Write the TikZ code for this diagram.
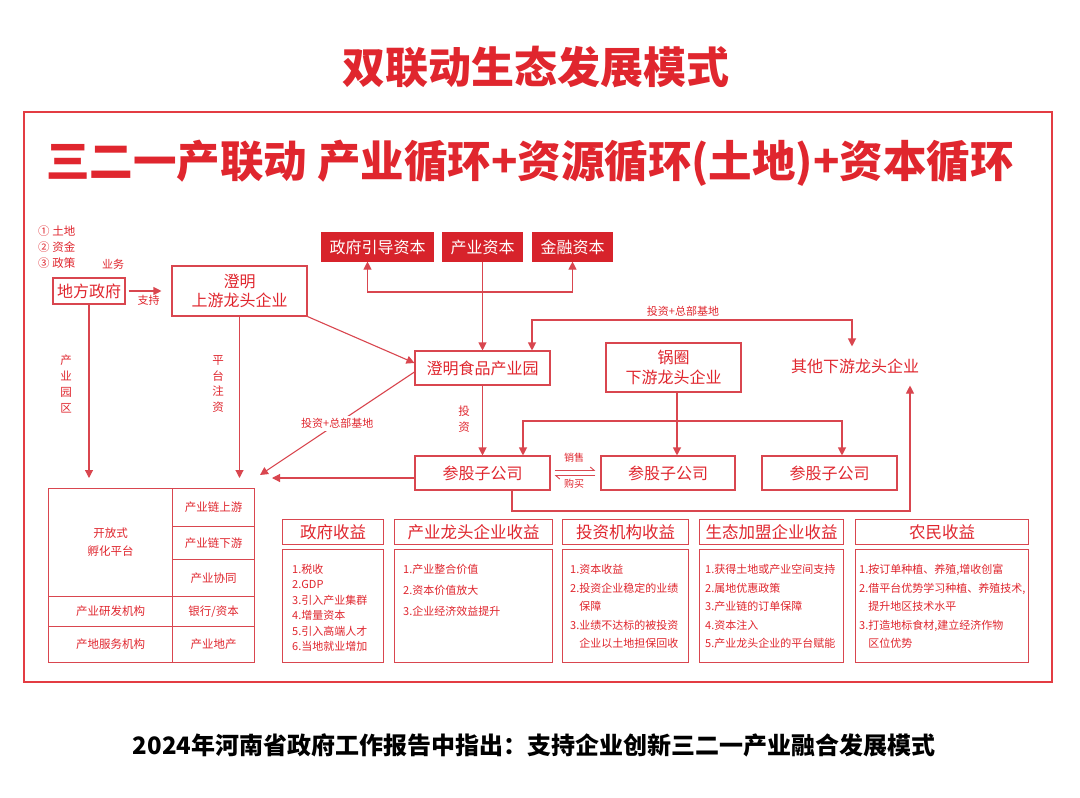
\documentclass[tikz,border=0pt]{standalone}
\usepackage{fontspec}
\usepackage{xcolor}
\usepackage{tikz}
\usetikzlibrary{calc,arrows.meta}
\newfontfamily\cjk{Noto Sans CJK SC}
\definecolor{hred}{HTML}{E0262E}
\definecolor{lred}{HTML}{D9464F}
\definecolor{fred}{HTML}{D7232B}
\tikzset{
  box/.style={draw=lred, line width=1.1pt, text=hred, inner sep=0pt, align=center, font=\cjk\fontsize{16}{19.5}\selectfont},
  capbox/.style={box, fill=fred, draw=fred, text=white},
  cell/.style={draw=lred, line width=1.1pt, text=hred, inner sep=0pt, align=center, anchor=north west, font=\cjk\fontsize{11.5}{18}\selectfont},
  lab/.style={text=hred, inner sep=1pt, font=\cjk\fontsize{11}{13}\selectfont},
  vlab/.style={text=hred, inner sep=0pt, align=center, font=\cjk\fontsize{11.5}{15.8}\selectfont},
  arr/.style={draw=lred, line width=1.1pt, -{Triangle[length=8pt,width=8pt]}},
  biarr/.style={draw=lred, line width=1.1pt, {Triangle[length=8pt,width=8pt]}-{Triangle[length=8pt,width=8pt]}},
  harp/.style={draw=lred, line width=0.9pt, -{Straight Barb[left,length=4pt,width=7pt]}},
  body/.style={text=hred, inner sep=0pt, anchor=north west, align=left, font=\cjk\fontsize{11}{18.6}\selectfont},
}

\begin{document}
\begin{tikzpicture}[x=1pt,y=1pt]
  \useasboundingbox (0,0) rectangle (1080,-798);
  \fill[white] (0,0) rectangle (1080,-798);

  % titles and frame
  \node[text=hred, font=\cjk\bfseries\fontsize{43}{47}\selectfont] (title) at (536,-67) {双联动生态发展模式};
  \draw[draw=hred!90, line width=2pt] (24,-112) rectangle (1052,-682);
  \node[text=hred, font=\cjk\bfseries\fontsize{43.5}{48}\selectfont] (subtitle) at (530,-163) {三二一产联动 产业循环+资源循环(土地)+资本循环};
  \node[text=black, font=\cjk\bfseries\fontsize{24}{28}\selectfont] (footer) at (534,-745) {2024年河南省政府工作报告中指出：支持企业创新三二一产业融合发展模式};

  % left part
  \node[lab, anchor=west, font=\cjk\fontsize{11.5}{13}\selectfont] (res1) at (37,-231) {① 土地};
  \node[lab, anchor=west, font=\cjk\fontsize{11.5}{13}\selectfont] (res2) at (37,-247) {② 资金};
  \node[lab, anchor=west, font=\cjk\fontsize{11.5}{13}\selectfont] (res3) at (37,-263) {③ 政策};
  \node[lab] (biz) at (113,-264) {业务};
  \node[box, minimum width=72pt, minimum height=26pt] (gov) at (89,-291) {地方政府};
  \node[box, minimum width=135pt, minimum height=50pt] (upstr) at (239.5,-291) {澄明\\上游龙头企业};

  % capital
  \node[capbox, minimum width=111pt, minimum height=28pt] (capA) at (377.5,-247) {政府引导资本};
  \node[capbox, minimum width=79pt, minimum height=28pt] (capB) at (482.5,-247) {产业资本};
  \node[capbox, minimum width=79pt, minimum height=28pt] (capC) at (572.5,-247) {金融资本};

  % middle
  \node[box, minimum width=135pt, minimum height=34pt] (park) at (482.5,-368) {澄明食品产业园};
  \node[box, minimum width=135pt, minimum height=49pt] (guoq) at (673.5,-367.5) {锅圈\\下游龙头企业};
  \node[box, draw=none, minimum width=135pt, minimum height=38pt] (other) at (855,-366) {其他下游龙头企业};
  \node[box, minimum width=135pt, minimum height=34pt] (sub1) at (482.5,-473) {参股子公司};
  \node[box, minimum width=134pt, minimum height=34pt] (sub2) at (668,-473) {参股子公司};
  \node[box, minimum width=135pt, minimum height=34pt] (sub3) at (829.5,-473) {参股子公司};

  \coordinate (inA) at (89,-478);
  \coordinate (inB) at (239.5,-478);
  \coordinate (inC) at (260,-475);
  \coordinate (inD) at (272,-478);
  \coordinate (jct) at (482.5,-292);
  \coordinate (topL) at (532,-320);
  \coordinate (topR) at (852,-320);
  \coordinate (brL) at (523,-421);
  \coordinate (brR) at (842,-421);
  \coordinate (rtR) at (910,-511);

  % connectors
  \draw[arr, shorten <=3pt, shorten >=10pt] (gov.east) -- (gov.east -| upstr.west)
    node[lab, midway, below=3pt] {支持};
  \draw[arr] (gov) -- (inA);
  \node[vlab] (lbA) at (66,-384) {产\\业\\园\\区};
  \draw[arr] (upstr) -- (inB);
  \node[vlab] (lbB) at (218,-384) {平\\台\\注\\资};
  \draw[arr] (upstr.south east) -- ([yshift=5pt]park.west);
  \draw[arr] ([yshift=-4pt]park.west) -- (inC)
    node[lab, midway, fill=white, inner sep=2pt] {投资+总部基地};
  \draw[arr] ([yshift=-5pt]sub1.west) -- (inD);

  \draw[arr] (capB) -- (park);
  \draw[arr] (jct) -| ([xshift=-10pt]capA.south);
  \draw[arr] (jct) -| (capC.south);

  \draw[biarr] (park.north -| topL) |- (topR) -- (other.north -| topR);
  \node[lab] (lbTop) at (683,-311) {投资+总部基地};

  \draw[arr] (park) -- (sub1);
  \node[vlab] (lbC) at (464,-419) {投\\资};

  \draw[arr] ([xshift=3.5pt]guoq.south) -- ([xshift=3.5pt]guoq.south |- sub2.north);
  \draw[biarr] (sub1.north -| brL) |- (brR) -- (sub3.north -| brR);

  \draw[harp] ([xshift=4pt,yshift=2.5pt]sub1.east) -- ([xshift=-5pt,yshift=2.5pt]sub2.west);
  \draw[harp] ([xshift=-5pt,yshift=-2.5pt]sub2.west) -- ([xshift=4pt,yshift=-2.5pt]sub1.east);
  \node[lab, font=\cjk\fontsize{10}{12}\selectfont] (sell) at (574,-458) {销售};
  \node[lab, font=\cjk\fontsize{10}{12}\selectfont] (buy) at (574,-484) {购买};

  \draw[arr] ([xshift=29.5pt]sub1.south) |- (rtR) -- (rtR |- other.south);

  % platform table
  \node[cell, minimum width=124pt, minimum height=108pt] (incub) at (48,-488) {开放式\\孵化平台};
  \node[cell, minimum width=124pt, minimum height=30pt] (rnd) at (48,-596) {产业研发机构};
  \node[cell, minimum width=124pt, minimum height=36pt] (svc) at (48,-626) {产地服务机构};
  \node[cell, minimum width=82pt, minimum height=38pt] (chainU) at (172,-488) {产业链上游};
  \node[cell, minimum width=82pt, minimum height=33pt] (chainD) at (172,-526) {产业链下游};
  \node[cell, minimum width=82pt, minimum height=37pt] (coop) at (172,-559) {产业协同};
  \node[cell, minimum width=82pt, minimum height=30pt] (bank) at (172,-596) {银行/资本};
  \node[cell, minimum width=82pt, minimum height=36pt] (estate) at (172,-626) {产业地产};

  % revenue columns
  \foreach \x/\w/\n/\t in {282/101/gov/政府收益, 394/158/lead/产业龙头企业收益, 562/126/inv/投资机构收益, 699/144/eco/生态加盟企业收益, 855/173/farm/农民收益}{
    \node[cell, font=\cjk\fontsize{16.5}{19}\selectfont, minimum width=\w pt, minimum height=25pt] (h\n) at (\x,-519) {\t};
    \node[cell, minimum width=\w pt, minimum height=113pt] (b\n) at (\x,-549) {};
  }
  \node[body, font=\cjk\fontsize{11}{15.4}\selectfont] (tgov) at (292,-564) {1.税收\\2.GDP\\3.引入产业集群\\4.增量资本\\5.引入高端人才\\6.当地就业增加};
  \node[body, font=\cjk\fontsize{11}{21}\selectfont] (tlead) at (403,-564) {1.产业整合价值\\2.资本价值放大\\3.企业经济效益提升};
  \node[body] (tinv) at (570,-564) {1.资本收益\\2.投资企业稳定的业绩\\\phantom{2.}保障\\3.业绩不达标的被投资\\\phantom{3.}企业以土地担保回收};
  \node[body] (teco) at (705,-564) {1.获得土地或产业空间支持\\2.属地优惠政策\\3.产业链的订单保障\\4.资本注入\\5.产业龙头企业的平台赋能};
  \node[body] (tfarm) at (859,-564) {1.按订单种植、养殖,增收创富\\2.借平台优势学习种植、养殖技术,\\\phantom{2.}提升地区技术水平\\3.打造地标食材,建立经济作物\\\phantom{3.}区位优势};
\end{tikzpicture}
\end{document}
